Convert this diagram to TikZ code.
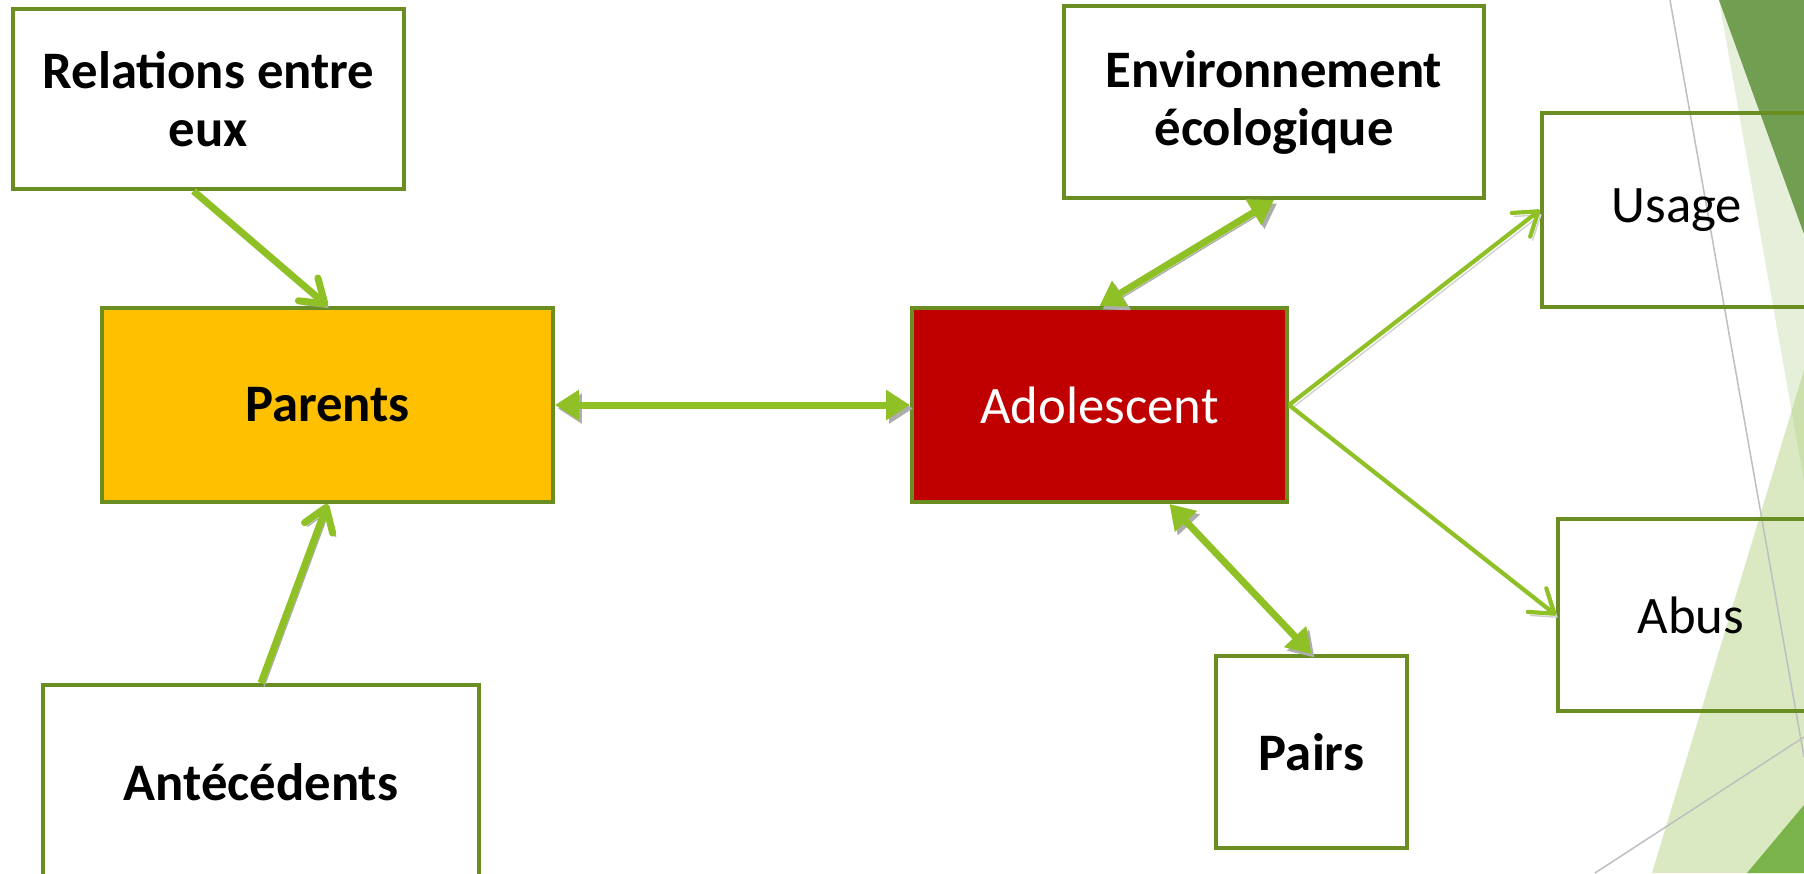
\documentclass[tikz,border=0pt]{standalone}
\usepackage{fontspec}
\setmainfont{Carlito}
\usetikzlibrary{arrows.meta}
\definecolor{boxgreen}{HTML}{6B8E23}
\definecolor{arrowgreen}{HTML}{8FC127}
\definecolor{parentsfill}{HTML}{FFC000}
\definecolor{adofill}{HTML}{C00000}
\definecolor{darkgreen}{HTML}{719E51}
\definecolor{palegreen}{HTML}{ACCD82}
\definecolor{lightgreen}{HTML}{DBE9C2}
\definecolor{midgreen}{HTML}{79B34A}
\definecolor{linegray}{HTML}{BFBFBF}
\pgfdeclarelayer{background}
\pgfsetlayers{background,main}

\begin{document}
\begin{tikzpicture}[x=0.1mm, y=-0.1mm,
    box/.style={draw=boxgreen, line width=0.4mm, inner sep=0pt, align=center,
        font=\fontsize{15}{16.5}\selectfont},
    boxb/.style={box, font=\fontsize{15}{16.5}\selectfont\bfseries},
    linkthick/.style={draw=arrowgreen, line width=0.7mm,
        preaction={draw=black!32, transform canvas={shift={(0.3mm,-0.35mm)}}}},
    linkthin/.style={draw=arrowgreen, line width=0.42mm,
        preaction={draw=black!18, transform canvas={shift={(0.25mm,-0.35mm)}}}},
    dbl/.style={arrows={Triangle[length=2.4mm,width=2.9mm]-Triangle[length=2.4mm,width=2.9mm]}},
    barb/.style={arrows={-Straight Barb[length=2.2mm,width=3mm,round]}}]

\useasboundingbox (0,0) rectangle (1804,873);
\clip (0,0) rectangle (1804,873);

% boxes
\node[boxb, minimum width=39.1mm, minimum height=18mm] (relations) at (208.5,99) {Relations entre\\eux};
\node[boxb, fill=parentsfill, minimum width=45.1mm, minimum height=19.4mm] (parents) at (327.5,405) {Parents};
\node[boxb, minimum width=43.6mm, minimum height=19.4mm] (antecedents) at (261,782) {Antécédents};
\node[box, fill=adofill, text=white, minimum width=37.5mm, minimum height=19.4mm] (ado) at (1099.5,405) {Adolescent};
\node[boxb, minimum width=42mm, minimum height=19.2mm] (env) at (1274,102) {Environnement\\écologique};
\node[box, minimum width=27mm, minimum height=19.4mm] (usage) at (1677,210) {Usage};
\node[box, minimum width=26.6mm, minimum height=19.2mm] (abus) at (1691,615) {Abus};
\node[boxb, minimum width=19.1mm, minimum height=19.2mm] (pairs) at (1311.5,752) {Pairs};

% arrows
\draw[linkthick, barb] ([xshift=-1.5mm]relations.south) -- (parents.north);
\draw[linkthick, barb] (antecedents.north) -- (parents.south);
\draw[linkthick, dbl] (parents.east) -- (ado.west);
\draw[linkthick, dbl] (env.south) -- (ado.north);
\draw[linkthick, dbl] ([xshift=7mm]ado.south) -- (pairs.north);
\draw[linkthin, barb] (ado.east) -- (usage.west);
\draw[linkthin, barb] (ado.east) -- (abus.west);

\begin{pgfonlayer}{background}
    \fill[white] (0,0) rectangle (1804,873);
    \fill[lightgreen] (1804,370) -- (1652,873) -- (1804,873) -- cycle;
    \fill[palegreen, fill opacity=0.3] (1719,0) -- (1804,0) -- (1804,481) -- cycle;
    \fill[darkgreen] (1719,0) -- (1804,0) -- (1804,234) -- cycle;
    \fill[midgreen] (1747,873) -- (1804,805) -- (1804,873) -- cycle;
    % thin lines
    \draw[linegray, line width=0.15mm] (1670,0) -- (1804,757);
    \draw[linegray, line width=0.15mm] (1595,873) -- (1804,737);
\end{pgfonlayer}

\end{tikzpicture}
\end{document}
